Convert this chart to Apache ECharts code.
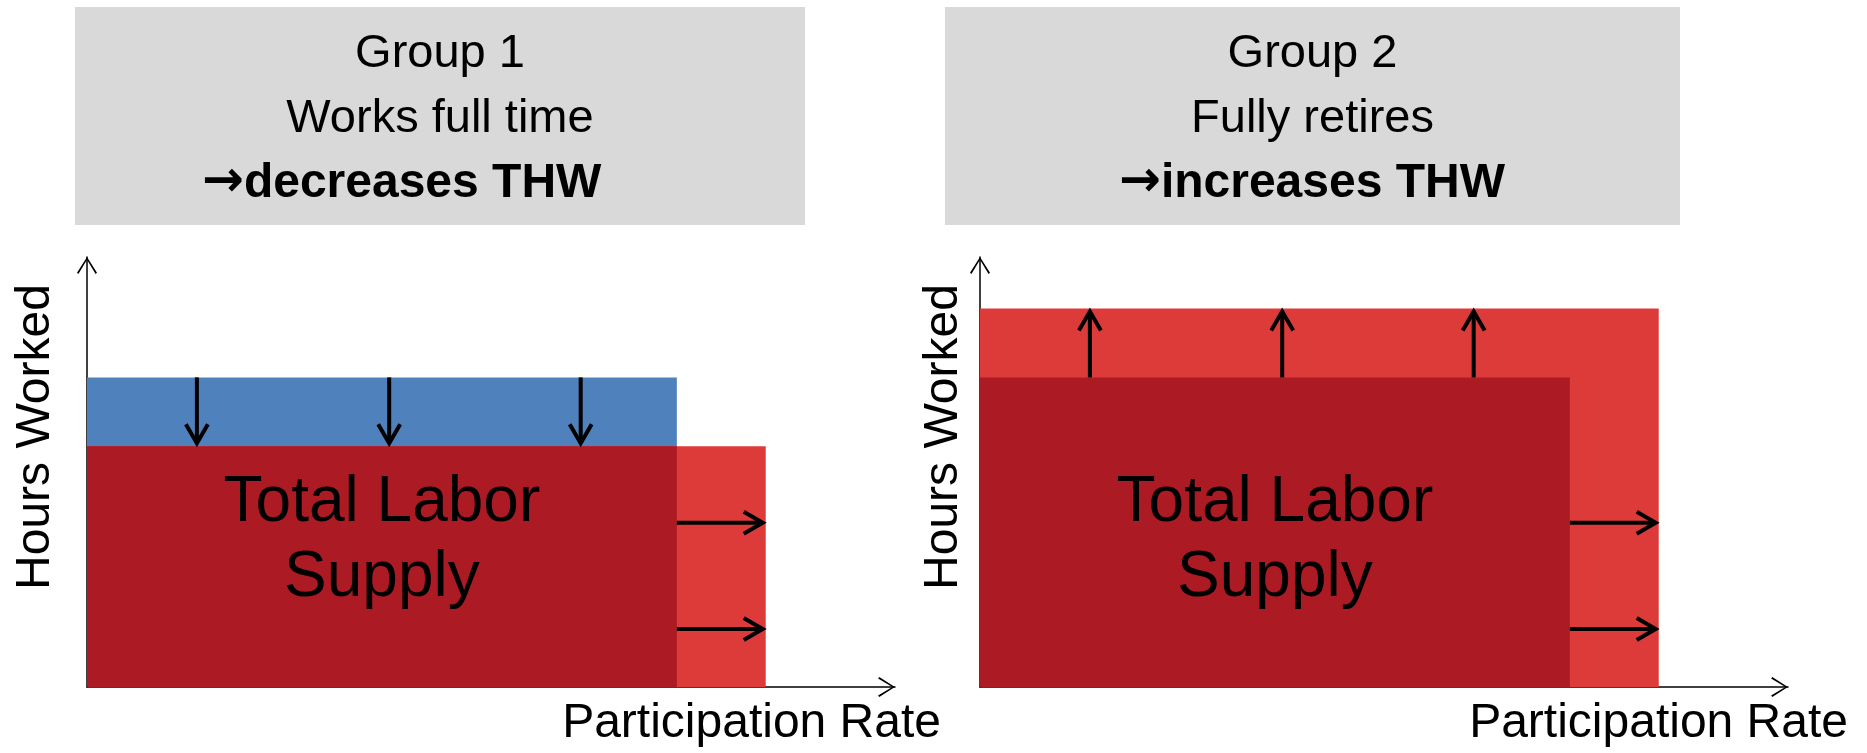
<!DOCTYPE html>
<html>
<head>
<meta charset="utf-8">
<script src="https://cdn.jsdelivr.net/npm/echarts@6/dist/echarts.min.js"></script>
<style>
  html, body { margin: 0; padding: 0; background: #ffffff; }
  #chart { width: 1867px; height: 753px; }
</style>
</head>
<body>
<div id="chart"></div>
<script>
// ---- data -------------------------------------------------------------
const groupNames     = ['Group 1', 'Group 2'];
const groupBehaviour = ['Works full time', 'Fully retires'];
const groupEffect    = ['decreases THW', 'increases THW'];

// labour supply before the change (participation rate, hours worked)
const basePart  = [73, 73];
const baseHours = [72, 72];
// labour supply after the change
const newPart   = [84, 84];
const newHours  = [56, 88];

// where the shift arrows sit (participation for vertical, hours for horizontal)
const hoursArrowAt = [13.6, 37.4, 61.1];
const partArrowAt  = [38.2, 13.5];

const xAxisName = 'Participation Rate';
const yAxisName = 'Hours Worked';
const areaLabel = 'Total Labor\nSupply';

// ---- style ------------------------------------------------------------
const FONT = '"Liberation Sans", Arial, sans-serif';
const BLUE = '#4f81bd';
const DARK_RED = '#ac1a24';
const LIGHT_RED = '#dd3a3a';
const HEADER_BG = '#d9d9d9';
const LABEL_HOURS = 34;   // vertical position of the area caption

const chevron = 'path://M10,0L20,15.6L18.6,16.8L10,2.6L1.4,16.8L0,15.6Z';

const gridLefts = [87, 980];
const grids = gridLefts.map(l => ({ left: l, top: 257, width: 808, height: 430 }));

function axisLine() {
  return {
    show: true,
    onZero: false,
    symbol: ['none', chevron],
    symbolSize: [20, 17],
    symbolOffset: [0, -8.5],
    lineStyle: { color: '#000', width: 1.5 }
  };
}

const xAxes = grids.map((g, k) => ({
  type: 'value', gridIndex: k, min: 0, max: 100,
  axisLine: axisLine(), axisTick: { show: false },
  axisLabel: { show: false }, splitLine: { show: false }
}));
const yAxes = grids.map((g, k) => ({
  type: 'value', gridIndex: k, min: 0, max: 100,
  axisLine: axisLine(), axisTick: { show: false },
  axisLabel: { show: false }, splitLine: { show: false }
}));

function arrowGroup(from, to) {
  const dx = to[0] - from[0], dy = to[1] - from[1];
  const len = Math.sqrt(dx * dx + dy * dy);
  const ux = dx / len, uy = dy / len;
  const tip = [to[0] - ux * 3, to[1] - uy * 3];
  const back = 19, half = 11;
  const bx = tip[0] - ux * back, by = tip[1] - uy * back;
  const px = -uy * half, py = ux * half;
  return [
    { type: 'line', shape: { x1: from[0], y1: from[1], x2: tip[0] - ux * 1.5, y2: tip[1] - uy * 1.5 },
      style: { stroke: '#000', lineWidth: 4 } },
    { type: 'polyline', shape: { points: [[bx + px, by + py], tip, [bx - px, by - py]] },
      style: { stroke: '#000', lineWidth: 4, fill: null, lineJoin: 'miter' } }
  ];
}

function makeRenderItem() {
  return function (params, api) {
    const bp = api.value(0), bh = api.value(1), np = api.value(2), nh = api.value(3);
    const rect = (x0, x1, y0, y1) => {
      const a = api.coord([x0, y1]);
      const b = api.coord([x1, y0]);
      return { x: a[0], y: a[1], width: b[0] - a[0], height: b[1] - a[1] };
    };
    const children = [];
    if (nh < bh) children.push({ type: 'rect', shape: rect(0, bp, 0, bh), style: { fill: BLUE } });
    children.push({ type: 'rect', shape: rect(0, np, 0, nh), style: { fill: LIGHT_RED } });
    children.push({ type: 'rect', shape: rect(0, bp, 0, Math.min(bh, nh)), style: { fill: DARK_RED } });

    hoursArrowAt.forEach(x => {
      arrowGroup(api.coord([x, bh]), api.coord([x, nh])).forEach(c => children.push(c));
    });
    partArrowAt.forEach(y => {
      arrowGroup(api.coord([bp, y]), api.coord([np, y])).forEach(c => children.push(c));
    });

    const c = api.coord([bp / 2, LABEL_HOURS]);
    children.push({
      type: 'text', x: c[0], y: c[1],
      style: { text: areaLabel, fill: '#000', font: '64px ' + FONT, lineHeight: 75,
               align: 'center', verticalAlign: 'middle' }
    });
    return { type: 'group', children: children };
  };
}

const series = grids.map((g, k) => ({
  type: 'custom', xAxisIndex: k, yAxisIndex: k,
  renderItem: makeRenderItem(),
  data: [[basePart[k], baseHours[k], newPart[k], newHours[k]]],
  silent: true
}));

// header panels and axis captions
const headerBoxes = [{ x: 75, w: 730 }, { x: 945, w: 735 }];
const effectX = [202, 1119];
const graphic = [];
headerBoxes.forEach((b, k) => {
  const cx = b.x + b.w / 2;
  graphic.push({ type: 'rect', shape: { x: b.x, y: 7, width: b.w, height: 218 }, style: { fill: HEADER_BG }, z: 0 });
  graphic.push({ type: 'text', x: cx, y: 54, style: { text: groupNames[k], font: '47px ' + FONT, fill: '#000', align: 'center', verticalAlign: 'middle' } });
  graphic.push({ type: 'text', x: cx, y: 119, style: { text: groupBehaviour[k], font: '47px ' + FONT, fill: '#000', align: 'center', verticalAlign: 'middle' } });
  graphic.push({ type: 'text', x: effectX[k], y: 184, style: {
    text: '{arr|\u2192}{txt|' + groupEffect[k] + '}',
    align: 'left', verticalAlign: 'middle',
    rich: {
      arr: { font: 'bold 50px "DejaVu Sans", sans-serif', fill: '#000', padding: [0, 0, 2, 0] },
      txt: { font: 'bold 48px ' + FONT, fill: '#000' }
    }
  } });
});
const xNameRight = [941, 1848];
const yNameX = [36, 944];
xNameRight.forEach(x => graphic.push({ type: 'text', x: x, y: 724,
  style: { text: xAxisName, font: '48px ' + FONT, fill: '#000', align: 'right', verticalAlign: 'middle' } }));
yNameX.forEach(x => graphic.push({ type: 'text', x: x, y: 437, rotation: Math.PI / 2,
  style: { text: yAxisName, font: '48px ' + FONT, fill: '#000', align: 'center', verticalAlign: 'middle' } }));

const chart = echarts.init(document.getElementById('chart'), null, { renderer: 'canvas' });
chart.setOption({
  animation: false,
  backgroundColor: '#ffffff',
  grid: grids,
  xAxis: xAxes,
  yAxis: yAxes,
  series: series,
  graphic: graphic
});
</script>
</body>
</html>
